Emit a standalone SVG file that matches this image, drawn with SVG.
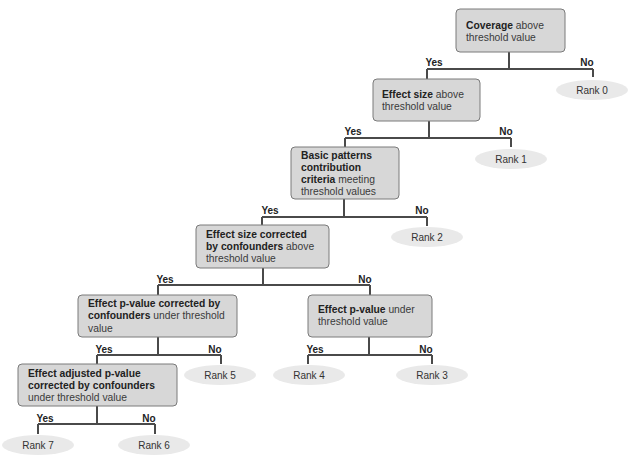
<svg xmlns="http://www.w3.org/2000/svg" width="633" height="459" viewBox="0 0 633 459">
<style>
  .box { fill: #d7d7d7; stroke: #7a7a7a; stroke-width: 1; }
  .leaf { fill: #e9e9e9; stroke: none; }
  .t { font-family: "Liberation Sans", Arial, sans-serif; font-size: 10.3px; fill: #3a3a3a; }
  .b { font-weight: bold; fill: #222; }
  .lbl { font-family: "Liberation Sans", Arial, sans-serif; font-size: 10px; font-weight: bold; fill: #222; text-anchor: middle; }
  .rk { font-family: "Liberation Sans", Arial, sans-serif; font-size: 10px; fill: #333; text-anchor: middle; }
  .edge { fill: none; stroke: #4a4a4a; stroke-width: 2; }
</style>
<rect width="633" height="459" fill="#ffffff"/>

<g id="connectors">
  <path class="edge" d="M509,52 V69 M427,69 H593 M427,69 V79 M593,69 V77"/>
  <path class="edge" d="M429,121 V138 M345,138 H511 M345,138 V147 M511,138 V147"/>
  <path class="edge" d="M344,199 V217 M262,217 H427 M262,217 V225 M427,217 V226"/>
  <path class="edge" d="M263,268 V285 M158,285 H370 M158,285 V295 M370,285 V295"/>
  <path class="edge" d="M158,337 V355 M97,355 H221 M97,355 V364 M221,355 V364"/>
  <path class="edge" d="M369,337 V355 M308,355 H432 M308,355 V364 M432,355 V364"/>
  <path class="edge" d="M97,406 V424 M38,424 H155 M38,424 V434 M155,424 V434"/>
  <text class="lbl" x="434" y="66">Yes</text>
  <text class="lbl" x="587" y="66">No</text>
  <text class="lbl" x="353" y="135">Yes</text>
  <text class="lbl" x="506" y="135">No</text>
  <text class="lbl" x="270" y="214">Yes</text>
  <text class="lbl" x="422" y="214">No</text>
  <text class="lbl" x="165" y="283">Yes</text>
  <text class="lbl" x="365" y="283">No</text>
  <text class="lbl" x="104" y="353">Yes</text>
  <text class="lbl" x="215" y="353">No</text>
  <text class="lbl" x="315" y="353">Yes</text>
  <text class="lbl" x="426" y="353">No</text>
  <text class="lbl" x="45" y="422">Yes</text>
  <text class="lbl" x="149" y="422">No</text>
</g>

<g id="n1">
  <rect class="box" x="456" y="9" width="109" height="43" rx="4"/>
  <text class="t" x="466" y="29"><tspan class="b">Coverage</tspan> above</text>
  <text class="t" x="466" y="41">threshold value</text>
</g>
<g id="r0">
  <ellipse class="leaf" cx="592" cy="90" rx="36" ry="10"/>
  <text class="rk" x="592" y="94">Rank 0</text>
</g>

<g id="n2">
  <rect class="box" x="373" y="79" width="107" height="42" rx="4"/>
  <text class="t" x="382" y="98"><tspan class="b">Effect size</tspan> above</text>
  <text class="t" x="382" y="110">threshold value</text>
</g>
<g id="r1">
  <ellipse class="leaf" cx="511" cy="159" rx="36" ry="10"/>
  <text class="rk" x="511" y="163">Rank 1</text>
</g>

<g id="n3">
  <rect class="box" x="291" y="147" width="108" height="52" rx="4"/>
  <text class="t" x="301" y="159"><tspan class="b">Basic patterns</tspan></text>
  <text class="t" x="301" y="171"><tspan class="b">contribution</tspan></text>
  <text class="t" x="301" y="183"><tspan class="b">criteria</tspan> meeting</text>
  <text class="t" x="301" y="195">threshold values</text>
</g>
<g id="r2">
  <ellipse class="leaf" cx="427" cy="237" rx="36" ry="10"/>
  <text class="rk" x="427" y="241">Rank 2</text>
</g>

<g id="n4">
  <rect class="box" x="196" y="225" width="133" height="43" rx="4"/>
  <text class="t" x="206" y="238"><tspan class="b">Effect size corrected</tspan></text>
  <text class="t" x="206" y="250"><tspan class="b">by confounders</tspan> above</text>
  <text class="t" x="206" y="262">threshold value</text>
</g>

<g id="n5">
  <rect class="box" x="78" y="295" width="159" height="42" rx="4"/>
  <text class="t" x="88" y="307"><tspan class="b">Effect p-value corrected by</tspan></text>
  <text class="t" x="88" y="319"><tspan class="b">confounders</tspan> under threshold</text>
  <text class="t" x="88" y="332">value</text>
</g>
<g id="r5">
  <ellipse class="leaf" cx="220" cy="375" rx="36" ry="10"/>
  <text class="rk" x="220" y="379">Rank 5</text>
</g>

<g id="n7">
  <rect class="box" x="308" y="295" width="124" height="42" rx="4"/>
  <text class="t" x="318" y="313"><tspan class="b">Effect p-value</tspan> under</text>
  <text class="t" x="318" y="325">threshold value</text>
</g>
<g id="r4">
  <ellipse class="leaf" cx="309" cy="375" rx="36" ry="10"/>
  <text class="rk" x="309" y="379">Rank 4</text>
</g>
<g id="r3">
  <ellipse class="leaf" cx="432" cy="375" rx="36" ry="10"/>
  <text class="rk" x="432" y="379">Rank 3</text>
</g>

<g id="n6">
  <rect class="box" x="18" y="364" width="159" height="42" rx="4"/>
  <text class="t" x="28" y="377"><tspan class="b">Effect adjusted p-value</tspan></text>
  <text class="t" x="28" y="389"><tspan class="b">corrected by confounders</tspan></text>
  <text class="t" x="28" y="401">under threshold value</text>
</g>
<g id="r7">
  <ellipse class="leaf" cx="38" cy="445" rx="36" ry="10"/>
  <text class="rk" x="38" y="449">Rank 7</text>
</g>
<g id="r6">
  <ellipse class="leaf" cx="154" cy="445" rx="36" ry="10"/>
  <text class="rk" x="154" y="449">Rank 6</text>
</g>
</svg>
